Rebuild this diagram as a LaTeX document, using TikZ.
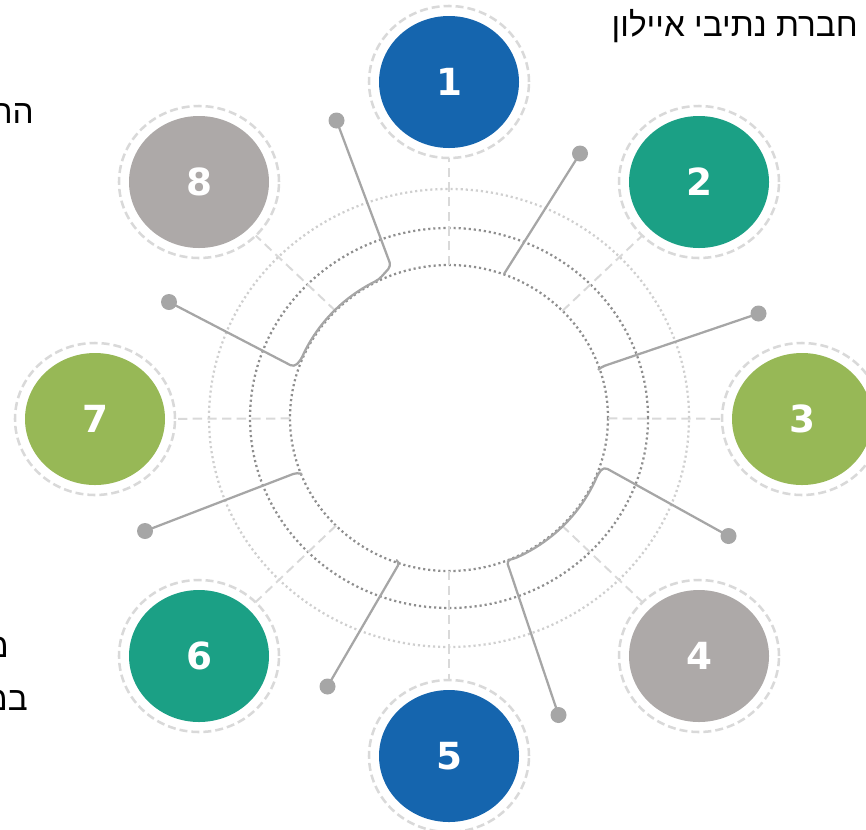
\documentclass[tikz,border=0pt]{standalone}
\usepackage{fontspec}
\setmainfont{Liberation Sans}
\newfontfamily\hebfont[Script=Hebrew]{Liberation Sans}
\newfontfamily\numfont{DejaVu Sans}
\TeXXeTstate=1
\usetikzlibrary{shapes.geometric}
\definecolor{cblue}{HTML}{1565AE}
\definecolor{cteal}{HTML}{1BA085}
\definecolor{cgreen}{HTML}{97B856}
\definecolor{cgray}{HTML}{ADA9A8}
\definecolor{ringc}{HTML}{D9D9D9}
\definecolor{connc}{HTML}{A6A6A6}
\definecolor{dotdark}{HTML}{8E8E8E}
\definecolor{dotlight}{HTML}{CFCFCF}
\tikzset{
  blob/.style={ellipse, minimum width=105pt, minimum height=99pt, inner sep=0pt, outer sep=0pt,
    text=white, font=\numfont\bfseries\fontsize{28pt}{32pt}\selectfont},
  ringnode/.style={ellipse, minimum width=120pt, minimum height=114pt, inner sep=0pt, outer sep=0pt,
    draw=ringc, line width=1.9pt, dash pattern=on 6pt off 3pt},
  spoke/.style={draw=ringc, line width=1.5pt, dash pattern=on 7pt off 4pt},
  dotring/.style={ellipse, inner sep=0pt, outer sep=0pt, draw=dotdark, line width=1.7pt, dash pattern=on 1.6pt off 2.2pt},
  lightring/.style={ellipse, inner sep=0pt, outer sep=0pt, draw=dotlight, line width=1.7pt, dash pattern=on 1.6pt off 2.2pt},
  conn/.style={draw=connc, line width=1.7pt, rounded corners=3pt},
  pin/.style={circle, fill=connc, minimum size=12pt, inner sep=0pt, outer sep=0pt},
  heb/.style={inner sep=0pt, font=\hebfont\fontsize{25pt}{29pt}\selectfont, text=black}
}
\begin{document}
\begin{tikzpicture}[x=0.75pt,y=-0.75pt]
\useasboundingbox (0,0) rectangle (866,829);
\clip (0,0) rectangle (866,829);

% concentric rings
\node[lightring, minimum width=360pt, minimum height=343.5pt] (outer) at (449,418) {};
\node[dotring, minimum width=298.5pt, minimum height=285pt] (mid) at (449,418) {};
\node[dotring, minimum width=238.5pt, minimum height=229.5pt] (core) at (449,418) {};

% rings around items
\node[ringnode] (r1) at (449,82) {};
\node[ringnode] (r2) at (699,182) {};
\node[ringnode] (r3) at (802,419) {};
\node[ringnode] (r4) at (699,656) {};
\node[ringnode] (r5) at (449,756) {};
\node[ringnode] (r6) at (199,656) {};
\node[ringnode] (r7) at (95,419) {};
\node[ringnode] (r8) at (199,182) {};

% spokes
\foreach \k in {1,...,8} {\draw[spoke] (core) -- (r\k);}

% items
\node[blob, fill=cblue]  (b1) at (449,82) {1};
\node[blob, fill=cteal]  (b2) at (699,182) {2};
\node[blob, fill=cgreen] (b3) at (802,419) {3};
\node[blob, fill=cgray]  (b4) at (699,656) {4};
\node[blob, fill=cblue]  (b5) at (449,756) {5};
\node[blob, fill=cteal]  (b6) at (199,656) {6};
\node[blob, fill=cgreen] (b7) at (95,419) {7};
\node[blob, fill=cgray]  (b8) at (199,182) {8};

% pins
\node[pin] (pA) at (336.5,120.5) {};
\node[pin] (pB) at (580,153.5) {};
\node[pin] (pC) at (758.5,313.5) {};
\node[pin] (pD) at (728.5,536) {};
\node[pin] (pE) at (558.5,715) {};
\node[pin] (pF) at (327.5,686.5) {};
\node[pin] (pG) at (145,531) {};
\node[pin] (pH) at (169,302) {};

% connectors
\draw[conn] (pA.center) -- (391,266) -- plot[domain=-116:-158, samples=24, variable=\t] ({449+160*cos(\t)},{418+154*sin(\t)}) -- (294,367) -- (pH.center);
\draw[conn] (pD.center) -- (604,467) -- plot[domain=21:66, samples=24, variable=\t] ({449+160*cos(\t)},{418+154*sin(\t)}) -- (506.5,560.5) -- (pE.center);
\draw[conn] (pB.center) -- (504,274);
\draw[conn] (pC.center) -- (601,367) -- (598,370);
\draw[conn] (pF.center) -- (400,562) -- (396,560);
\draw[conn] (pG.center) -- (297,472.5) -- (302,474);

% texts
\node[heb, anchor=base east] (title) at (858,36) {\beginR חברת נתיבי איילון\endR};
\node[heb, anchor=base east] (tl1) at (34,123) {\beginR הר\endR};
\node[heb, anchor=base east] (tl2) at (9,657) {\beginR מ\endR};
\node[heb, anchor=base east] (tl3) at (28,710) {\beginR במ\endR};
\end{tikzpicture}
\end{document}
